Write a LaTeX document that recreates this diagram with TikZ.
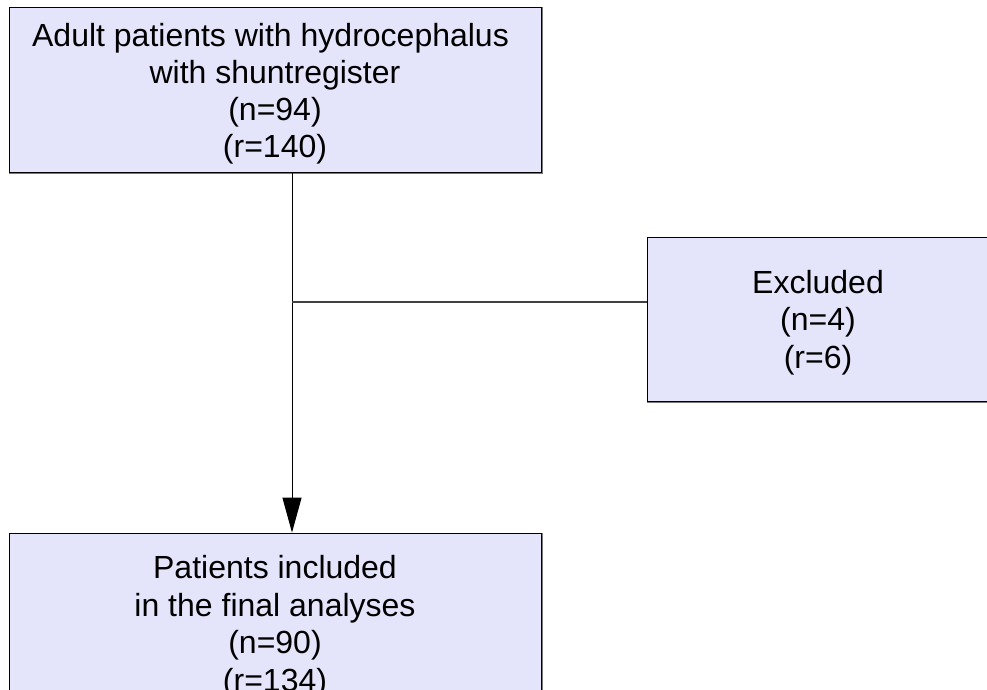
\documentclass[tikz,border=0pt]{standalone}
\usepackage{fontspec}
\setmainfont{Liberation Sans}
\usetikzlibrary{arrows.meta,calc}
\definecolor{boxfill}{RGB}{228,228,250}
\definecolor{shadowgray}{RGB}{120,120,120}
\tikzset{
  flowbox/.style={rectangle, draw=black, line width=0.8pt, fill=boxfill, align=center,
    inner sep=0pt, font=\fontsize{32}{37.5}\selectfont},
  conn/.style={draw=black, line width=1pt},
}
\begin{document}
\begin{tikzpicture}[x=1pt,y=-1pt]
\clip (0,0) rectangle (987,690);
\fill[white] (0,0) rectangle (987,690);
\node[flowbox, minimum width=532pt, minimum height=165pt, font=\fontsize{32}{37}\selectfont] (top) at (275,89.5)
  {\rule{0pt}{31pt}Adult patients with hydrocephalus\kern9pt\\with shuntregister\\(n=94)\\(r=140)};
\node[flowbox, minimum width=342pt, minimum height=164pt] (excl) at (818,319)
  {\rule{0pt}{30pt}Excluded\\(n=4)\\(r=6)};
\node[flowbox, minimum width=532pt, minimum height=187pt] (incl) at (275,626.5)
  {Patients included\\in the final analyses\\(n=90)\\(r=134)};
% shadow edges
\draw[shadowgray, line width=1.2pt] ($(top.south west)+(0.5,1)$) -- ($(top.south east)+(1,1)$) -- ($(top.north east)+(1,0.5)$);
\draw[shadowgray, line width=1.2pt] ($(excl.south west)+(0.5,1)$) -- ($(excl.south east)+(1,1)$);
\draw[shadowgray, line width=1.2pt] ($(incl.south east)+(1,0)$) -- ($(incl.north east)+(1,0.5)$);
% connectors
\coordinate (branch) at (292,302);
\draw[conn, -{Triangle[length=35pt,width=19pt]}] (top.south -| branch) -- (incl.north -| branch);
\draw[draw=black!75, line width=1.4pt] (branch) -- (branch -| excl.west);
\end{tikzpicture}
\end{document}
